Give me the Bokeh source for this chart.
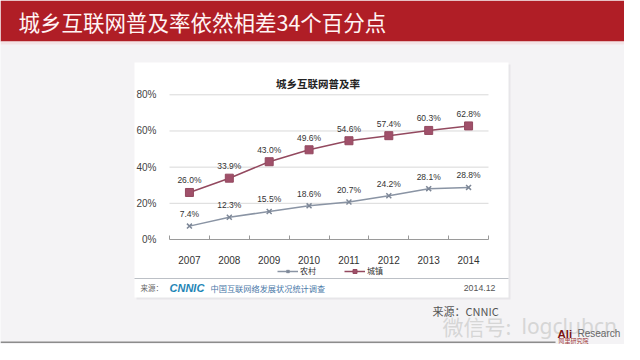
from bokeh.plotting import figure
from bokeh.models import (Range1d, FixedTicker, Label, BoxAnnotation, Legend, LegendItem,
                          ColumnDataSource)
from bokeh.core.properties import value
from bokeh.embed import file_html
from bokeh.resources import INLINE

# ---- data ----
years = ["2007", "2008", "2009", "2010", "2011", "2012", "2013", "2014"]
rural = [7.4, 12.3, 15.5, 18.6, 20.7, 24.2, 28.1, 28.8]
urban = [26.0, 33.9, 43.0, 49.6, 54.6, 57.4, 60.3, 62.8]
series_names = ["农村", "城镇"]
y_ticks = [0, 20, 40, 60, 80]
y_tick_labels = ["0%", "20%", "40%", "60%", "80%"]

W, H = 624, 344
CJK = "Noto Sans CJK SC"
LAT = "Liberation Sans"

# plot area (canvas pixels): x 169..488 for the 8 categories, y 239 (0%) .. 94.3 (80%)
PX_L, PX_R = 169.0, 488.0
PY_0, PY_80 = 239.0, 94.3
ux = (PX_R - PX_L) / len(years)
uy = (PY_0 - PY_80) / 80.0
x_range = Range1d((0 - PX_L) / ux, (W - PX_L) / ux)
y_range = Range1d((PY_0 - H) / uy, PY_0 / uy)

xs = [i + 0.5 for i in range(len(years))]

p = figure(width=W, height=H, output_backend="svg", toolbar_location=None,
           x_range=x_range, y_range=y_range, min_border=0)
p.border_fill_color = "#f4f3f5"
p.background_fill_color = "#f4f3f5"
p.outline_line_color = None
p.xgrid.visible = False
p.ygrid.visible = False


def box(l, r, t, b, color, level="image"):
    p.add_layout(BoxAnnotation(left=l, right=r, top=t, bottom=b,
                               left_units="canvas", right_units="canvas",
                               top_units="canvas", bottom_units="canvas",
                               fill_color=color, fill_alpha=1.0, line_color=None, level=level))


def lab(x, y, text, size, color, font=CJK, align="left", style="normal"):
    p.add_layout(Label(x=x, y=y, x_units="canvas", y_units="canvas", text=text,
                       text_font=font, text_font_size=f"{size}px", text_color=color,
                       text_align=align, text_baseline="middle", text_font_style=style))


# header
box(0, W, 0, 41, "#b01e26")
box(0, W, 41, 44, "#f3e3e5")
# chart card with subtle shadow
box(136, 510, 64, 299, "#e7e6e9")
box(134, 508, 62, 297, "#ffffff")
box(134, 508, 277.5, 278.5, "#bcc0c6")
# bottom rule with a gap for the logo
box(0, 555, 341, 342.5, "#8c8c8c")

# horizontal gridlines across the category span
grid_y = y_ticks[1:]
p.segment(x0=[0] * len(grid_y), x1=[len(years)] * len(grid_y), y0=grid_y, y1=grid_y,
          line_color="#d9d9d9", line_width=1)

# axes, fixed inside the frame
yax = p.yaxis[0]
yax.fixed_location = 0
yax.bounds = (0, 80)
yax.ticker = FixedTicker(ticks=y_ticks)
yax.major_label_overrides = {t: s for t, s in zip(y_ticks, y_tick_labels)}
yax.axis_line_color = None
yax.major_tick_line_color = None
yax.minor_tick_line_color = None
yax.major_label_text_font = LAT
yax.major_label_text_font_size = "10px"
yax.major_label_text_color = "#444444"
yax.major_label_standoff = 7

xax = p.xaxis[0]
xax.fixed_location = 0
xax.bounds = (0, len(years))
xax.ticker = FixedTicker(ticks=xs, minor_ticks=list(range(len(years) + 1)))
xax.major_label_overrides = {x: y for x, y in zip(xs, years)}
xax.axis_line_color = "#9a9a9a"
xax.major_tick_line_color = None
xax.minor_tick_line_color = "#9a9a9a"
xax.minor_tick_in = 4
xax.minor_tick_out = 0
xax.major_label_text_font = LAT
xax.major_label_text_font_size = "10px"
xax.major_label_text_color = "#333333"
xax.major_label_standoff = 10

# series
src = ColumnDataSource(dict(x=xs, rural=rural, urban=urban,
                            rl=[f"{v:.1f}%" for v in rural],
                            ul=[f"{v:.1f}%" for v in urban]))
rl = p.line("x", "rural", source=src, line_color="#8a94a4", line_width=1.5)
rm = p.scatter("x", "rural", source=src, marker="x", size=7, line_color="#7d8797", line_width=1.5)
ul = p.line("x", "urban", source=src, line_color="#93495f", line_width=1.5)
um = p.scatter("x", "urban", source=src, marker="square", size=8, fill_color="#a0506a",
               line_color="#93495f")

for col, lcol in (("rural", "rl"), ("urban", "ul")):
    p.text("x", col, text=lcol, source=src, y_offset=-12, text_align="center",
           text_baseline="middle", text_font=value(LAT), text_font_size="8.5px",
           text_color="#333333")

legend = Legend(items=[LegendItem(label=series_names[0], renderers=[rl, rm]),
                       LegendItem(label=series_names[1], renderers=[ul, um])],
                orientation="horizontal", location=(277, 68),
                glyph_width=21, glyph_height=10, label_standoff=2, spacing=24,
                padding=0, margin=0, border_line_color=None, background_fill_alpha=0,
                label_text_font=CJK, label_text_font_size="8px",
                label_text_color="#333333")
p.add_layout(legend, "center")

# texts
lab(18, 21, "城乡互联网普及率依然相差34个百分点", 21.5, "#fff4f4")
lab(317.5, 83, "城乡互联网普及率", 10.5, "#222222", align="center", style="bold")
lab(140, 287, "来源：", 7.5, "#666666")
lab(169, 287, "CNNIC", 11, "#1f86b6", font=LAT, style="bold italic")
lab(210, 287, "中国互联网络发展状况统计调查", 8.2, "#4a78a8")
lab(495, 287, "2014.12", 8.8, "#555555", font=LAT, align="right")
lab(432, 310, "来源：CNNIC", 11, "#555555")
lab(442, 325, "微信号:", 21, "#d6d6d6")
lab(521, 325, "logclubcn", 21, "#d6d6d6", font="Noto Sans")
lab(557, 333, "Ali", 11.5, "#7a1414", font=LAT, style="bold")
lab(577, 333, "Research", 10, "#666666", font=LAT)
lab(558, 339.5, "阿里研究院", 6, "#a03a3a")

open("out.html", "w").write(file_html(p, INLINE))
